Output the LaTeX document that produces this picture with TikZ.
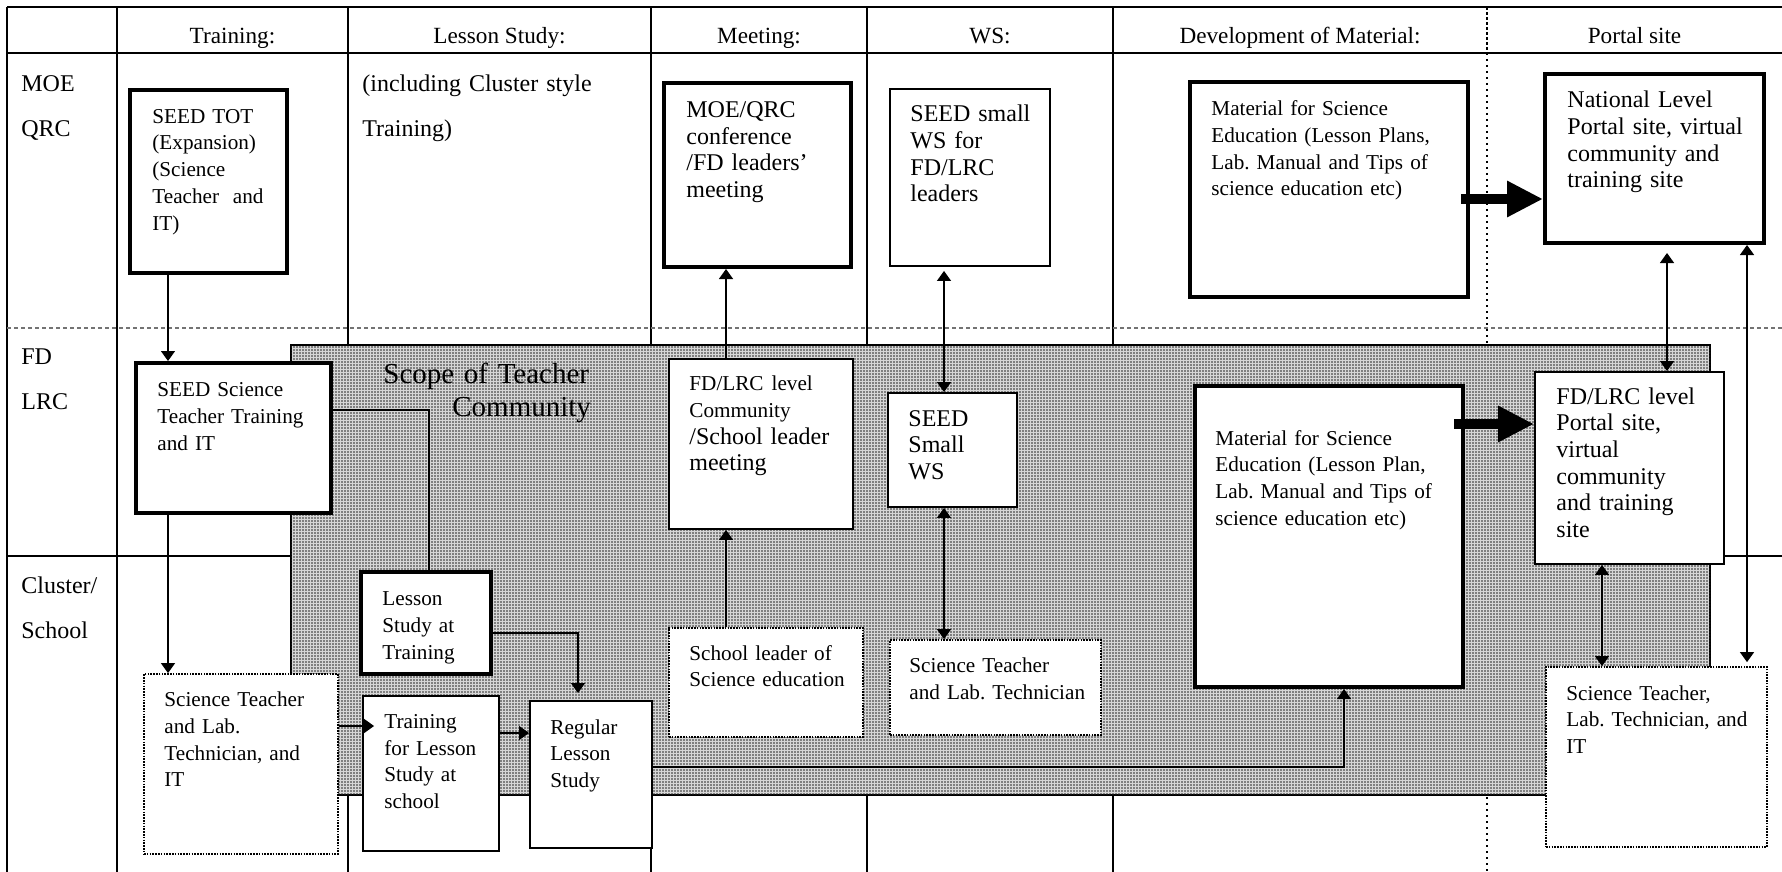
\documentclass[tikz,border=0pt]{standalone}
\usepackage{fontspec}
\setmainfont{Liberation Serif}
\usetikzlibrary{arrows.meta,fit,calc,patterns.meta}

\newcommand\bigfs{\fontsize{12}{13.35}\selectfont}
\newcommand\smallfs{\fontsize{10.6}{13.35}\selectfont}

% fine dot screen for the community area
\tikzdeclarepattern{
  name=screendots,
  type=uncolored,
  bounding box={(-0.5pt,-0.5pt) and (0.5pt,0.5pt)},
  tile size={(1.5pt,1.5pt)},
  code={\pgfpathcircle{\pgfpointorigin}{0.42pt}\pgfusepath{fill}}
}

\begin{document}
\frenchspacing
\begin{tikzpicture}[x=0.5pt, y=-0.5pt,
  tableline/.style={line width=0.9pt},
  rowdash/.style={line width=0.7pt, draw=black!55, dash pattern=on 2pt off 1.5pt},
  coldash/.style={line width=0.8pt, dash pattern=on 1.5pt off 1pt},
  coldot/.style={line width=0.8pt, dash pattern=on 0.8pt off 2.2pt},
  region/.style={draw, line width=0.6pt, fill=black!16, inner sep=0pt,
    postaction={pattern=screendots, pattern color=black!85}},
  heavybox/.style={draw, line width=2pt, fill=white, inner sep=0pt},
  lightbox/.style={draw, line width=0.95pt, fill=white, inner sep=0pt},
  dotbox/.style={draw, line width=0.9pt, dash pattern=on 0.8pt off 0.6pt, fill=white, inner sep=0pt},
  boxtext/.style={anchor=base west, inner sep=0pt, align=left, text width=135pt, font=\bigfs},
  smalltext/.style={boxtext, font=\smallfs},
  headtext/.style={anchor=base, inner sep=0pt, font=\fontsize{11.6}{13}\selectfont},
  rowtext/.style={anchor=base west, inner sep=0pt, align=left, text width=135pt, font=\fontsize{12}{22.5}\selectfont},
  link/.style={line width=0.7pt},
  onearrow/.style={link, -{Triangle[length=5pt,width=7pt]}},
  twoarrow/.style={link, {Triangle[length=5pt,width=7pt]}-{Triangle[length=5pt,width=7pt]}},
  blockarrow/.style={line width=5pt, -{Triangle[length=18pt,width=17pt]}},
]
\useasboundingbox (0,0) rectangle (1782,872);

% ---- table grid ----
\draw[tableline] (7,7) -- (1782,7);
\draw[tableline] (7,53) -- (1782,53);
\draw[tableline] (7,7) -- (7,872);
\foreach \cx in {117,348,651,867,1113}
  \draw[tableline] (\cx,7) -- (\cx,872);
\draw[rowdash] (7,328) -- (1782,328);
\draw[tableline] (7,556) -- (1782,556);
\draw[coldash] (1487,7) -- (1487,53);
\draw[coldot] (1487,53) -- (1487,872);

% ---- column headers ----
\node[headtext] (h1) at (232.5,43.3) {Training:};
\node[headtext] (h2) at (499.5,43.3) {Lesson Study:};
\node[headtext] (h3) at (759,43.3) {Meeting:};
\node[headtext] (h4) at (990,43.3) {WS:};
\node[headtext] (h5) at (1300,43.3) {Development of Material:};
\node[headtext] (h6) at (1634.5,43.3) {Portal site};

% ---- row labels ----
\node[rowtext] (moe) at (21,91.5) {MOE\\QRC};
\node[rowtext] (fdl) at (21,364.5) {FD\\LRC};
\node[rowtext] (cls) at (21,593) {Cluster/\\School};
\node[rowtext] (incl) at (362,91.5) {(including Cluster style\\Training)};

% ---- scope of the teacher community ----
\node[region, fit={(291,345) (1710,795)}] (scope) {};
\node[anchor=base west, inner sep=0pt, align=left, text width=135pt,
      font=\fontsize{14.5}{16.7}\selectfont] (scope-t) at (383,383.3)
      {Scope of Teacher\\\hspace*{34.5pt}Community};

% ---- boxes ----
\node[heavybox, fit={(130,90) (287,273)}] (tot) {};
\node[heavybox, fit={(136,363) (331,513)}] (sci) {};
\node[dotbox,   fit={(144,674) (338,854)}] (stl) {};
\node[heavybox, fit={(361,572) (491,674)}] (lst) {};
\node[lightbox, fit={(363,696) (499,851)}] (tls) {};
\node[lightbox, fit={(530,701) (652,848)}] (reg) {};
\node[heavybox, fit={(664,83) (851,267)}] (conf) {};
\node[lightbox, fit={(669,359) (853,529)}] (comm) {};
\node[dotbox,   fit={(669,628) (863,737)}] (lead) {};
\node[lightbox, fit={(890,89) (1050,266)}] (sws) {};
\node[lightbox, fit={(888,393) (1017,507)}] (ws) {};
\node[dotbox,   fit={(890,640) (1101,735)}] (stlt) {};
\node[heavybox, fit={(1190,82) (1468,297)}] (mat) {};
\node[heavybox, fit={(1545,74) (1764,243)}] (nat) {};
\node[heavybox, fit={(1195,386) (1463,687)}] (matfd) {};
\node[lightbox, fit={(1535,372) (1724,564)}] (fdp) {};
\node[dotbox,   fit={(1546,667) (1767,847)}] (stit) {};

% ---- box texts ----
\node[smalltext] (tot-t) at (152,123.3) {SEED TOT\\(Expansion)\\(Science\\Teacher\hspace*{6.9pt}and\\IT)};
\node[smalltext] (sci-t) at (157,396.7) {SEED Science\\Teacher Training\\and IT};
\node[smalltext] (stl-t) at (164,706.7) {Science Teacher\\and Lab.\\Technician, and\\IT};
\node[smalltext] (lst-t) at (382,605.7) {Lesson\\Study at\\Training};
\node[smalltext] (tls-t) at (384,728.3) {Training\\for Lesson\\Study at\\school};
\node[smalltext] (reg-t) at (550,734) {Regular\\Lesson\\Study};
\node[boxtext] (conf-t) at (686,117.3) {MOE/QRC\\conference\\/FD leaders’\\meeting};
\node[boxtext] (comm-t) at (689,390.7) {{\smallfs FD/LRC level\\Community}\\/School leader\\meeting};
\node[smalltext] (lead-t) at (689,660) {School leader of\\Science education};
\node[boxtext] (sws-t) at (910,121.7) {SEED small\\WS for\\FD/LRC\\leaders};
\node[boxtext] (ws-t) at (908,426) {SEED\\Small\\WS};
\node[smalltext] (stlt-t) at (909,672.3) {Science Teacher\\and Lab. Technician};
\node[smalltext] (mat-t) at (1211,115.7) {Material for Science\\Education (Lesson Plans,\\Lab. Manual and Tips of\\science education etc)};
\node[boxtext] (nat-t) at (1567,107.7) {National Level\\Portal site, virtual\\community and\\training site};
\node[smalltext] (matfd-t) at (1215,445) {Material for Science\\Education (Lesson Plan,\\Lab. Manual and Tips of\\science education etc)};
\node[boxtext] (fdp-t) at (1556,404) {FD/LRC level\\Portal site,\\virtual\\community\\and training\\site};
\node[smalltext] (stit-t) at (1566,700) {Science Teacher,\\Lab. Technician, and\\IT};

% ---- connector guide positions ----
\coordinate (xa) at (168,0);
\coordinate (xb) at (429,0);
\coordinate (xc) at (578,0);
\coordinate (xd) at (726,0);
\coordinate (xe) at (944,0);
\coordinate (xf) at (1344,0);
\coordinate (xg) at (1602,0);
\coordinate (xh) at (1667,0);
\coordinate (xi) at (1747,0);
\coordinate (ya) at (0,410);
\coordinate (yb) at (0,633);
\coordinate (yc) at (0,726);
\coordinate (yd) at (0,733);
\coordinate (ye) at (0,767);
\coordinate (yf) at (0,199);
\coordinate (yg) at (0,424);

% ---- connectors ----
\draw[onearrow] (tot.south -| xa) -- (sci.north -| xa);
\draw[onearrow] (sci.south -| xa) -- (stl.north -| xa);
\draw[link] (sci.east |- ya) -| (lst.north -| xb);
\draw[onearrow, shorten >=3.5pt] (lst.east |- yb) -| (reg.north -| xc);
\draw[onearrow, shorten >=-6pt] (stl.east |- yc) -- (tls.west |- yc);
\draw[onearrow] (tls.east |- yd) -- (reg.west |- yd);
\draw[onearrow] (reg.east |- ye) -| (matfd.south -| xf);
\draw[onearrow] (lead.north -| xd) -- (comm.south -| xd);
\draw[onearrow] (comm.north -| xd) -- (conf.south -| xd);
\draw[twoarrow, shorten >=2pt] (ws.north -| xe) -- (sws.south -| xe);
\draw[twoarrow] (ws.south -| xe) -- (stlt.north -| xe);
\draw[twoarrow, shorten <=4pt] (nat.south -| xh) -- (fdp.north -| xh);
\draw[twoarrow, shorten >=2pt] (nat.south -| xi) -- (stit.north -| xi);
\draw[twoarrow] (fdp.south -| xg) -- (stit.north -| xg);
\draw[blockarrow] ($(mat.east |- yf)+(-9,0)$) -- (nat.west |- yf);
\draw[blockarrow] ($(matfd.east |- yg)+(-11,0)$) -- (fdp.west |- yg);

\end{tikzpicture}
\end{document}
